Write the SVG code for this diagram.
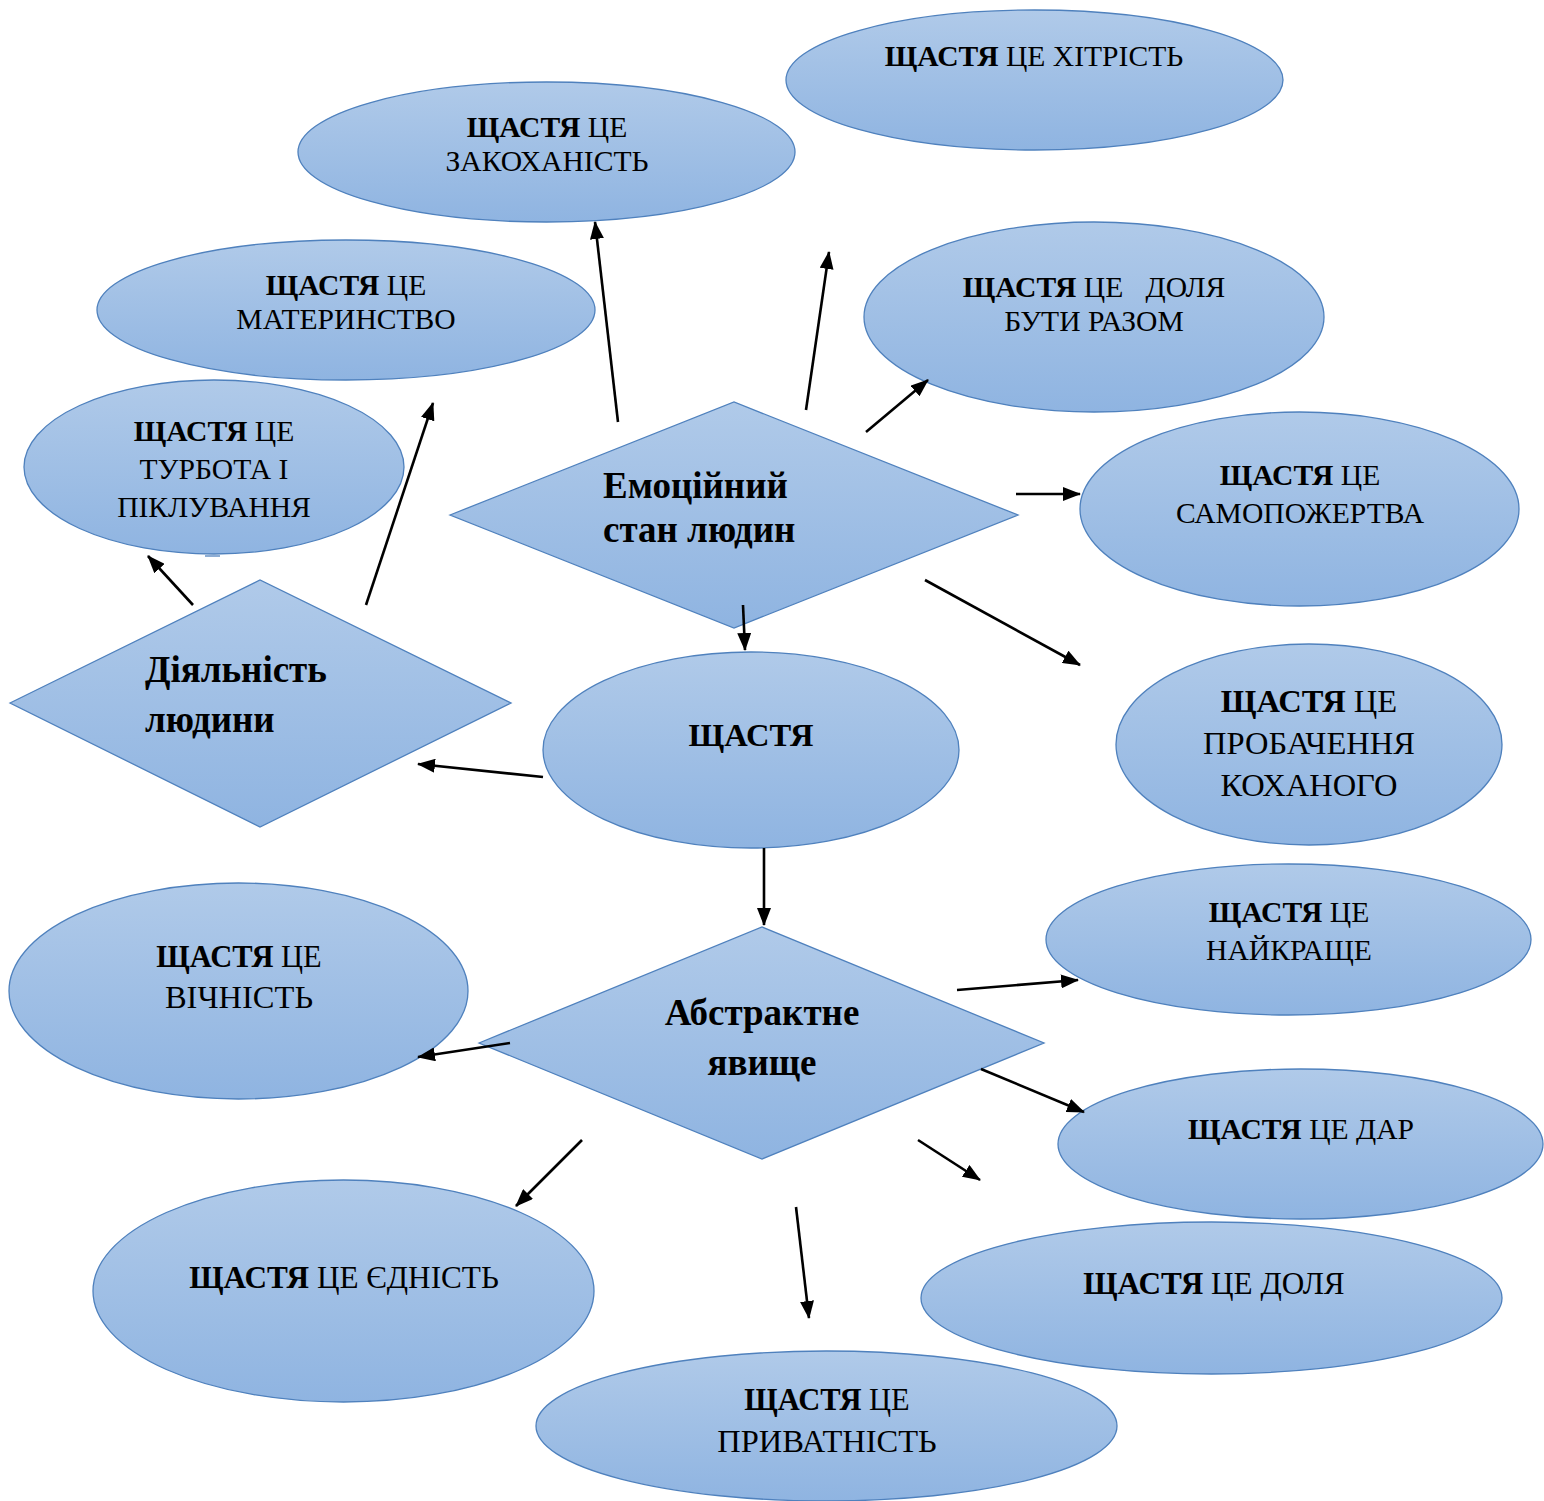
<svg xmlns="http://www.w3.org/2000/svg" width="1544" height="1501" viewBox="0 0 1544 1501">
  <defs>
    <linearGradient id="fill" x1="0" y1="0" x2="0" y2="1">
      <stop offset="0" stop-color="#b0cae9"/>
      <stop offset="1" stop-color="#8fb4e1"/>
    </linearGradient>
    <marker id="arrow" markerUnits="userSpaceOnUse" markerWidth="18" markerHeight="14" refX="17" refY="7" orient="auto">
      <path d="M0,0 L18,7 L0,14 Z" fill="#000"/>
    </marker>
  </defs>
  <style>
    .shape { fill: url(#fill); stroke: #4f81bd; stroke-width: 1.3; }
    text { font-family: "Liberation Serif", "Times New Roman", serif; fill: #000; }
    .lbl { font-size: 29.6px; text-anchor: middle; }
    .lg { font-size: 32.5px; }
    .md { font-size: 31.2px; }
    .sm { font-size: 30.5px; }
    .hd { font-size: 37px; font-weight: bold; }
    .b { font-weight: bold; }
    .conn line { stroke: #000; stroke-width: 2.6; marker-end: url(#arrow); }
  </style>

  <rect width="1544" height="1501" fill="#fff"/>

  <!-- concept ellipses -->
  <g id="n-khitrist">
    <ellipse class="shape" cx="1034.5" cy="80" rx="248.5" ry="70"/>
    <text class="lbl" x="1034" y="66"><tspan class="b">ЩАСТЯ</tspan> ЦЕ ХІТРІСТЬ</text>
  </g>
  <g id="n-zakokhanist">
    <ellipse class="shape" cx="546.5" cy="152" rx="248.5" ry="70"/>
    <text class="lbl" x="547" y="137"><tspan class="b">ЩАСТЯ</tspan> ЦЕ</text>
    <text class="lbl" x="547" y="171">ЗАКОХАНІСТЬ</text>
  </g>
  <g id="n-materynstvo">
    <ellipse class="shape" cx="346" cy="310" rx="249" ry="70"/>
    <text class="lbl" x="346" y="295"><tspan class="b">ЩАСТЯ</tspan> ЦЕ</text>
    <text class="lbl" x="346" y="329">МАТЕРИНСТВО</text>
  </g>
  <g id="n-turbota">
    <ellipse class="shape" cx="214" cy="467" rx="190" ry="87"/>
    <line x1="205" y1="556" x2="220" y2="556" stroke="#4f81bd" stroke-width="1.3"/>
    <text class="lbl" x="214" y="441"><tspan class="b">ЩАСТЯ</tspan> ЦЕ</text>
    <text class="lbl" x="214" y="479">ТУРБОТА І</text>
    <text class="lbl" x="214" y="517">ПІКЛУВАННЯ</text>
  </g>
  <g id="n-dolia-razom">
    <ellipse class="shape" cx="1094" cy="317" rx="230" ry="95"/>
    <text class="lbl" x="1094" y="297" xml:space="preserve"><tspan class="b">ЩАСТЯ</tspan> ЦЕ   ДОЛЯ</text>
    <text class="lbl" x="1094" y="331">БУТИ РАЗОМ</text>
  </g>
  <g id="n-samopozhertva">
    <ellipse class="shape" cx="1299.5" cy="509" rx="219.5" ry="97"/>
    <text class="lbl" x="1300" y="485"><tspan class="b">ЩАСТЯ</tspan> ЦЕ</text>
    <text class="lbl" x="1300" y="523">САМОПОЖЕРТВА</text>
  </g>
  <g id="n-probachennia">
    <ellipse class="shape" cx="1309" cy="744.5" rx="193" ry="100.5"/>
    <text class="lbl lg" x="1309" y="712"><tspan class="b">ЩАСТЯ</tspan> ЦЕ</text>
    <text class="lbl lg" x="1309" y="754">ПРОБАЧЕННЯ</text>
    <text class="lbl lg" x="1309" y="796">КОХАНОГО</text>
  </g>
  <g id="n-shchastia">
    <ellipse class="shape" cx="751" cy="750" rx="208" ry="98"/>
    <text class="lbl lg b" x="751" y="746">ЩАСТЯ</text>
  </g>
  <g id="n-naikrashche">
    <ellipse class="shape" cx="1288.5" cy="939.5" rx="242.5" ry="75.5"/>
    <text class="lbl" x="1289" y="922"><tspan class="b">ЩАСТЯ</tspan> ЦЕ</text>
    <text class="lbl" x="1289" y="960">НАЙКРАЩЕ</text>
  </g>
  <g id="n-vichnist">
    <ellipse class="shape" cx="238.5" cy="991" rx="229.5" ry="108"/>
    <text class="lbl sm" x="239" y="967"><tspan class="b">ЩАСТЯ</tspan> ЦЕ</text>
    <text class="lbl lg" x="239" y="1008">ВІЧНІСТЬ</text>
  </g>
  <g id="n-dar">
    <ellipse class="shape" cx="1300.5" cy="1144" rx="242.5" ry="75"/>
    <text class="lbl" x="1301" y="1139"><tspan class="b">ЩАСТЯ</tspan> ЦЕ ДАР</text>
  </g>
  <g id="n-dolia">
    <ellipse class="shape" cx="1211.5" cy="1298" rx="290.5" ry="76"/>
    <text class="lbl md" x="1214" y="1294"><tspan class="b">ЩАСТЯ</tspan> ЦЕ ДОЛЯ</text>
  </g>
  <g id="n-ednist">
    <ellipse class="shape" cx="343.5" cy="1291" rx="250.5" ry="111"/>
    <text class="lbl md" x="344" y="1288"><tspan class="b">ЩАСТЯ</tspan> ЦЕ ЄДНІСТЬ</text>
  </g>
  <g id="n-pryvatnist">
    <ellipse class="shape" cx="826.5" cy="1426" rx="290.5" ry="75"/>
    <text class="lbl sm" x="827" y="1410"><tspan class="b">ЩАСТЯ</tspan> ЦЕ</text>
    <text class="lbl lg" x="827" y="1452">ПРИВАТНІСТЬ</text>
  </g>

  <!-- category diamonds -->
  <g id="d-emotsiinyi">
    <polygon class="shape" points="450,515 734,402 1018,515 734,628"/>
    <text class="hd" x="603" y="498">Емоційний</text>
    <text class="hd" x="603" y="542">стан людин</text>
  </g>
  <g id="d-diialnist">
    <polygon class="shape" points="10,703 260,580 511,703 260,827"/>
    <text class="hd" x="145" y="682">Діяльність</text>
    <text class="hd" x="145" y="732">людини</text>
  </g>
  <g id="d-abstraktne">
    <polygon class="shape" points="479,1043 762,927 1044,1043 762,1159"/>
    <text class="hd" x="762" y="1025" text-anchor="middle">Абстрактне</text>
    <text class="hd" x="762" y="1075" text-anchor="middle">явище</text>
  </g>

  <!-- connectors -->
  <g id="connectors" class="conn">
    <line x1="618" y1="422" x2="595" y2="222"/>
    <line x1="806" y1="410" x2="829" y2="252"/>
    <line x1="866" y1="432" x2="928" y2="380"/>
    <line x1="1016" y1="494" x2="1080" y2="494"/>
    <line x1="925" y1="580" x2="1080" y2="665"/>
    <line x1="743" y1="605" x2="745" y2="650"/>
    <line x1="543" y1="777" x2="418" y2="764"/>
    <line x1="366" y1="605" x2="433" y2="403"/>
    <line x1="193" y1="605" x2="148" y2="556"/>
    <line x1="764" y1="848" x2="764" y2="925"/>
    <line x1="957" y1="990" x2="1078" y2="980"/>
    <line x1="510" y1="1043" x2="418" y2="1057"/>
    <line x1="981" y1="1069" x2="1084" y2="1112"/>
    <line x1="918" y1="1140" x2="980" y2="1180"/>
    <line x1="582" y1="1140" x2="516" y2="1206"/>
    <line x1="796" y1="1207" x2="809" y2="1318"/>
  </g>
</svg>
